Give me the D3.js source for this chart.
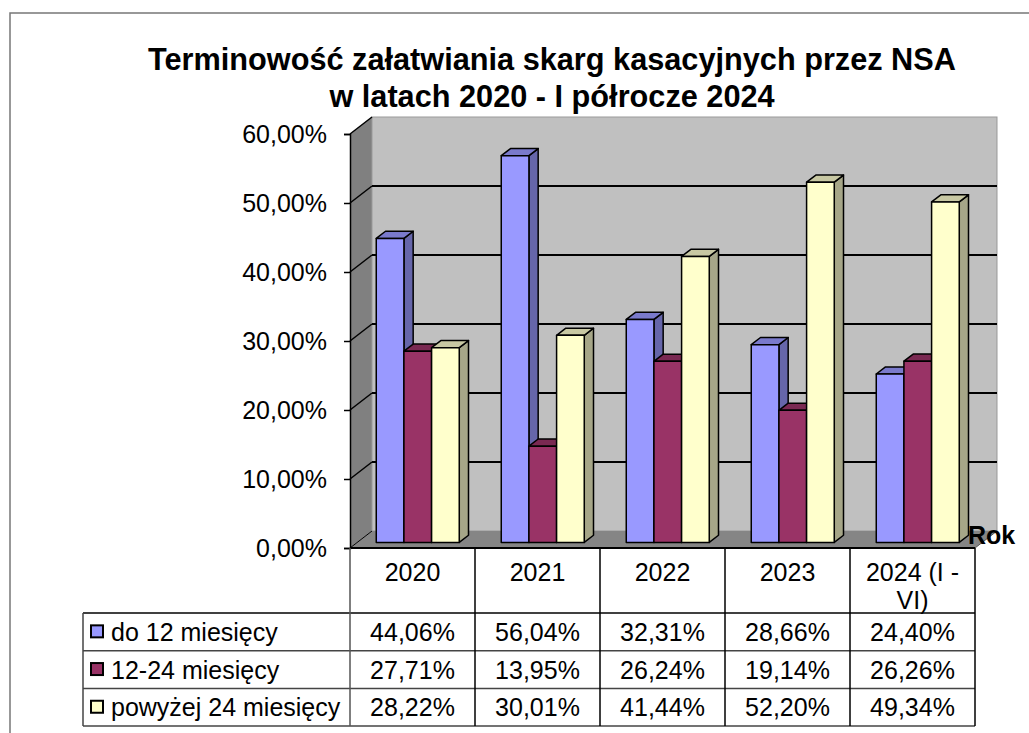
<!DOCTYPE html>
<html>
<head>
<meta charset="utf-8">
<script src="https://cdn.jsdelivr.net/npm/d3@7"></script>
<style>
  body { margin: 0; background: #fff; }
  svg { display: block; font-family: "Liberation Sans", Arial, sans-serif; }
</style>
</head>
<body>
<svg id="chart" width="1029" height="733"></svg>
<script>
// dane
const years = ["2020", "2021", "2022", "2023", "2024 (I - VI)"];
const yearLines = [["2020"], ["2021"], ["2022"], ["2023"], ["2024 (I -", "VI)"]];
const seriesNames = ["do 12 miesięcy", "12-24 miesięcy", "powyżej 24 miesięcy"];
const upTo12 = [44.06, 56.04, 32.31, 28.66, 24.40];
const from12to24 = [27.71, 13.95, 26.24, 19.14, 26.26];
const over24 = [28.22, 30.01, 41.44, 52.20, 49.34];
const yTicks = [0, 10, 20, 30, 40, 50, 60];

const seriesValues = [upTo12, from12to24, over24];
const colors = [
  { front: "#9999FF", top: "#7A7ACC", side: "#6666AA" },
  { front: "#993366", top: "#7A2952", side: "#661F44" },
  { front: "#FFFFCC", top: "#C8C8A3", side: "#A6A688" }
];

const FONT = 25;
const svg = d3.select("#chart");

// geometria wykresu 3D
const plotLeft = 350, plotRight = 975, plotBottom = 548, plotTop = 134;
const DX = 22, DY = 17;          // głębokość ścian
const F0 = 0.33, F1 = 0.75;      // głębokość słupków (ułamek)
const GAP = 42;

const y = d3.scaleLinear().domain([0, 60]).range([plotBottom, plotTop]);
const x0 = d3.scaleBand().domain(years).range([plotLeft, plotRight]);
const x1 = d3.scaleBand().domain(d3.range(3)).range([GAP / 2 - 2, x0.bandwidth() - GAP / 2 - 2]);

const loc = d3.formatLocale({ decimal: ",", thousands: " ", grouping: [3], currency: ["", " zł"] });
const fmt = (v) => loc.format(".2f")(v) + "%";

// ramka
svg.append("path")
  .attr("d", "M10,740 L10,13 L1040,13")
  .attr("fill", "none").attr("stroke", "#777").attr("stroke-width", 1.5);

// tytuł
const title = svg.append("text")
  .attr("text-anchor", "middle")
  .attr("font-weight", "bold")
  .attr("font-size", 30.7)
  .attr("fill", "#000");
title.append("tspan").attr("x", 552).attr("y", 70).text("Terminowość załatwiania skarg kasacyjnych przez NSA");
title.append("tspan").attr("x", 552).attr("y", 107).text("w latach 2020 - I półrocze 2024");

const pt = (px, py) => px + "," + py;

// ściana boczna
svg.append("polygon")
  .attr("points", [pt(plotLeft, y(60)), pt(plotLeft + DX, y(60) - DY), pt(plotLeft + DX, plotBottom - DY), pt(plotLeft, plotBottom)].join(" "))
  .attr("fill", "#808080");

// tylna ściana
svg.append("rect")
  .attr("x", plotLeft + DX).attr("y", y(60) - DY)
  .attr("width", plotRight - plotLeft).attr("height", y(0) - y(60))
  .attr("fill", "#C0C0C0")
  .attr("stroke", "#999").attr("stroke-width", 1);

// podłoga
svg.append("polygon")
  .attr("points", [pt(plotLeft, plotBottom), pt(plotLeft + DX, plotBottom - DY), pt(plotRight + DX, plotBottom - DY), pt(plotRight, plotBottom)].join(" "))
  .attr("fill", "#858585");

// linie siatki
const grid = svg.append("g");
yTicks.filter((t) => t > 0 && t < 60).forEach((t) => {
  grid.append("line")
    .attr("x1", plotLeft + DX).attr("x2", plotRight + DX)
    .attr("y1", y(t) - DY).attr("y2", y(t) - DY)
    .attr("stroke", "#000").attr("stroke-width", 2);
});
yTicks.forEach((t) => {
  grid.append("line")
    .attr("x1", plotLeft).attr("x2", plotLeft + DX)
    .attr("y1", y(t)).attr("y2", y(t) - DY)
    .attr("stroke", "#000").attr("stroke-width", t === 0 ? 1 : 1.5);
});

// słupki
const bars = svg.append("g");
years.forEach((yr, i) => {
  seriesValues.forEach((vals, s) => {
    const v = vals[i];
    const bx = x0(yr) + x1(s) + DX * F0;
    const bw = x1.bandwidth();
    const yb = y(0) - DY * F0;
    const yt = y(v) - DY * F0;
    const dx = DX * (F1 - F0), dy = DY * (F1 - F0);
    const c = colors[s];
    const g = bars.append("g")
      .attr("stroke", "#000").attr("stroke-width", 1.5).attr("stroke-linejoin", "round");
    g.append("polygon")
      .attr("points", [pt(bx + bw, yt), pt(bx + bw + dx, yt - dy), pt(bx + bw + dx, yb - dy), pt(bx + bw, yb)].join(" "))
      .attr("fill", c.side);
    g.append("polygon")
      .attr("points", [pt(bx, yt), pt(bx + dx, yt - dy), pt(bx + bw + dx, yt - dy), pt(bx + bw, yt)].join(" "))
      .attr("fill", c.top);
    g.append("rect")
      .attr("x", bx).attr("y", yt).attr("width", bw).attr("height", yb - yt)
      .attr("fill", c.front);
  });
});

// oś Y
const axis = svg.append("g")
  .attr("transform", `translate(${plotLeft},0)`)
  .call(d3.axisLeft(y).tickValues(yTicks).tickSize(6).tickPadding(17).tickFormat(fmt));
axis.select(".domain").attr("stroke", "#000").attr("stroke-width", 1.5);
axis.selectAll(".tick line").attr("stroke", "#000").attr("stroke-width", 1.5);
axis.selectAll(".tick text")
  .attr("font-family", "Liberation Sans, Arial, sans-serif")
  .attr("font-size", FONT).attr("fill", "#000");

// krawędź podłogi
svg.append("line")
  .attr("x1", plotLeft).attr("x2", plotRight).attr("y1", plotBottom).attr("y2", plotBottom)
  .attr("stroke", "#000").attr("stroke-width", 2);
svg.append("line")
  .attr("x1", plotRight).attr("x2", plotRight + DX).attr("y1", plotBottom).attr("y2", plotBottom - DY)
  .attr("stroke", "#555").attr("stroke-width", 1);

svg.append("text")
  .attr("x", 968).attr("y", 544)
  .attr("font-weight", "bold").attr("font-size", 25)
  .text("Rok");

// tabela danych
const rowTop = 613, rowH = 37.7, legendLeft = 83;
const table = svg.append("g");

years.forEach((yr, i) => {
  const lines = yearLines[i];
  lines.forEach((ln, k) => {
    table.append("text")
      .attr("x", x0(yr) + x0.bandwidth() / 2)
      .attr("y", 581 + k * 28)
      .attr("text-anchor", "middle")
      .attr("font-size", FONT)
      .text(ln);
  });
});

seriesNames.forEach((name, s) => {
  const ry = rowTop + s * rowH;
  table.append("rect")
    .attr("x", 91).attr("y", ry + rowH / 2 - 6.5)
    .attr("width", 12).attr("height", 12)
    .attr("fill", colors[s].front).attr("stroke", "#000").attr("stroke-width", 2);
  table.append("text")
    .attr("x", 111).attr("y", ry + rowH / 2 + 9)
    .attr("font-size", FONT)
    .text(name);
  years.forEach((yr, i) => {
    table.append("text")
      .attr("x", x0(yr) + x0.bandwidth() / 2)
      .attr("y", ry + rowH / 2 + 9)
      .attr("text-anchor", "middle")
      .attr("font-size", FONT)
      .text(fmt(seriesValues[s][i]));
  });
});

// linie tabeli
d3.range(4).forEach((k) => {
  table.append("line")
    .attr("x1", legendLeft).attr("x2", plotRight)
    .attr("y1", rowTop + k * rowH).attr("y2", rowTop + k * rowH)
    .attr("stroke", k === 0 ? "#000" : "#444").attr("stroke-width", 1.5);
});
table.append("line")
  .attr("x1", legendLeft).attr("x2", legendLeft)
  .attr("y1", rowTop).attr("y2", rowTop + 3 * rowH)
  .attr("stroke", "#444").attr("stroke-width", 1.5);
years.concat([null]).forEach((yr, i) => {
  const vx = yr === null ? plotRight : x0(yr);
  table.append("line")
    .attr("x1", vx).attr("x2", vx)
    .attr("y1", plotBottom).attr("y2", rowTop + 3 * rowH)
    .attr("stroke", i === 0 ? "#555" : "#000").attr("stroke-width", 1.5);
});
</script>
</body>
</html>
